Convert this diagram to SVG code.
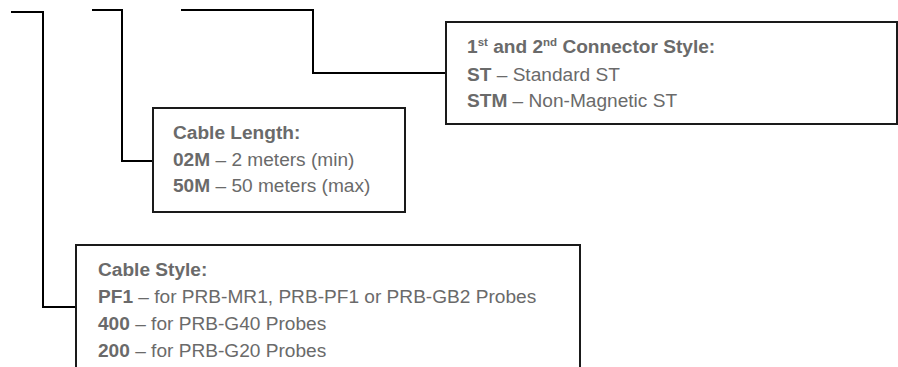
<svg xmlns="http://www.w3.org/2000/svg" width="898" height="367" viewBox="0 0 898 367">
<style>
.box{fill:#fff;stroke:#1a1a1a;stroke-width:2}
.ln{fill:none;stroke:#000;stroke-width:2}
text{font-family:"Liberation Sans",Arial,sans-serif;font-size:19.1px;fill:#6a6a6a}
.b{font-weight:bold}
.sup{font-size:11.5px;font-weight:bold}
</style>
<rect width="898" height="367" fill="#fff"/>
<g id="connectors">
<polyline class="ln" points="11,12 43,12 43,307 76,307"/>
<polyline class="ln" points="92,10 122,10 122,161 153,161"/>
<polyline class="ln" points="181,10 313,10 313,73 446,73"/>
</g>
<g id="connector-style">
<rect class="box" x="446" y="22" width="451" height="102"/>
<text x="467" y="53" class="b">1<tspan class="sup" dy="-7">st</tspan><tspan dy="7"> and 2</tspan><tspan class="sup" dy="-7">nd</tspan><tspan dy="7"> Connector Style:</tspan></text>
<text x="467" y="81"><tspan class="b">ST</tspan> – Standard ST</text>
<text x="467" y="107"><tspan class="b">STM</tspan> – Non-Magnetic ST</text>
</g>
<g id="cable-length">
<rect class="box" x="153" y="108" width="252" height="104"/>
<text x="173" y="139" class="b">Cable Length:</text>
<text x="173" y="166"><tspan class="b">02M</tspan> – 2 meters (min)</text>
<text x="173" y="192"><tspan class="b">50M</tspan> – 50 meters (max)</text>
</g>
<g id="cable-style">
<rect class="box" x="76" y="245" width="504" height="140"/>
<text x="98" y="276" class="b">Cable Style:</text>
<text x="98" y="303"><tspan class="b">PF1</tspan> – for PRB-MR1, PRB-PF1 or PRB-GB2 Probes</text>
<text x="98" y="330"><tspan class="b">400</tspan> – for PRB-G40 Probes</text>
<text x="98" y="357"><tspan class="b">200</tspan> – for PRB-G20 Probes</text>
</g>
</svg>
